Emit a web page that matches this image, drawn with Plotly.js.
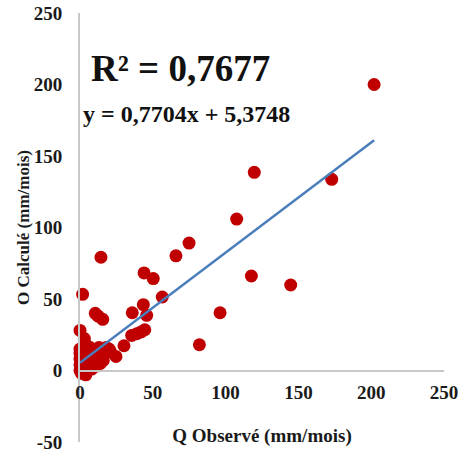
<!DOCTYPE html>
<html>
<head>
<meta charset="utf-8">
<script src="https://cdn.plot.ly/plotly-3.0.1.min.js"></script>
<style>html,body{margin:0;padding:0;background:#fff;}#chart{width:469px;height:456px;}</style>
</head>
<body>
<div id="chart"></div>
<script>
// Observed (x) vs calculated (y) discharge, mm/mois
const qObserve = [
  202, 119.7, 172.9, 107.6, 74.9, 65.9, 14.4, 44, 50.3, 117.7, 144.7, 1.8, 56.5, 43.5,
  96.2, 35.9, 10.5, 12.5, 15.6, 45.8, 82, 0, 3, 30.2, 24.7, 35.5, 38.9, 42, 44.5,
  0, 0, 0, 0, 0, 1, 2, 2, 3, 3, 4, 4, 5, 6, 6, 7, 8, 9, 10, 11, 12, 13, 14, 15,
  16, 17, 18, 19, 20, 21, 8, 11, 14, 1, 5, 2
];
const qCalcule = [
  200, 138.6, 133.7, 105.9, 89.1, 80.2, 79.2, 68.2, 64.3, 66.1, 59.8, 53.3, 51.4, 46,
  40.4, 40.4, 40, 38, 35.8, 38.6, 18, 28, 22.3, 17.3, 9.8, 24.5, 25.7, 27, 28.5,
  0, 4, 8, 12, 15, -2, 2, 10, 6, 14, -3, 18, 3, 8, 12, 16, 5, 10, 14, 7, 11, 16, 9, 13,
  7, 12, 16, 14, 15, 13, 1, 3, 5, 6, 1, 6
];
// Linear trendline as printed on the chart
const trendSlope = 0.7704;
const trendIntercept = 5.3748;
const trendX = [0, 202];
const trendY = trendX.map(v => trendSlope * v + trendIntercept);
const xTicks = [0, 50, 100, 150, 200, 250];
const yTicks = [-50, 0, 50, 100, 150, 200, 250];
const r2Text = "R² = 0,7677";
const eqText = "y = 0,7704x + 5,3748";

const serif = '"Liberation Serif", "Times New Roman", serif';

const traces = [
  {
    type: 'scatter', mode: 'markers', x: qObserve, y: qCalcule,
    marker: {color: '#C00000', size: 13, line: {width: 0}},
    cliponaxis: false, hoverinfo: 'skip', showlegend: false
  },
  {
    type: 'scatter', mode: 'lines', x: trendX, y: trendY,
    line: {color: '#4A7EBB', width: 2.5},
    cliponaxis: false, hoverinfo: 'skip', showlegend: false
  }
];

const layout = {
  width: 469, height: 456,
  margin: {l: 80, r: 25, t: 13, b: 14},
  paper_bgcolor: '#fff', plot_bgcolor: '#fff',
  showlegend: false,
  xaxis: {
    range: [0, 250], tickvals: xTicks, ticktext: xTicks.map(String),
    anchor: 'free', position: 50/300,
    showgrid: false, zeroline: false,
    showline: true, linecolor: '#C8C8C8', linewidth: 2,
    ticks: 'outside', ticklen: 5, tickcolor: 'rgba(0,0,0,0)',
    tickfont: {family: serif, size: 19, color: '#1a1a1a', weight: 'bold'},
    title: {text: 'Q Observé (mm/mois)', font: {family: serif, size: 19, color: '#1a1a1a', weight: 'bold'}, standoff: 25},
    automargin: false, fixedrange: true
  },
  yaxis: {
    range: [-50, 250], tickvals: yTicks, ticktext: yTicks.map(String),
    showgrid: false, zeroline: false,
    showline: true, linecolor: '#C8C8C8', linewidth: 2,
    ticks: 'outside', ticklen: 12, tickcolor: 'rgba(0,0,0,0)',
    tickfont: {family: serif, size: 19, color: '#1a1a1a', weight: 'bold'},
    title: {text: 'O Calculé (mm/mois)', font: {family: serif, size: 17, color: '#1a1a1a', weight: 'bold'}, standoff: 0},
    automargin: false, fixedrange: true
  },
  annotations: [
    {x: 6.5, y: 211.5, xref: 'x', yref: 'y', text: r2Text, showarrow: false,
     xanchor: 'left', yanchor: 'middle',
     font: {family: serif, size: 37, color: '#111', weight: 'bold'}},
    {x: 1, y: 179.5, xref: 'x', yref: 'y', text: eqText, showarrow: false,
     xanchor: 'left', yanchor: 'middle',
     font: {family: serif, size: 24, color: '#111', weight: 'bold'}}
  ]
};

Plotly.newPlot('chart', traces, layout, {staticPlot: true, displayModeBar: false});
</script>
</body>
</html>
